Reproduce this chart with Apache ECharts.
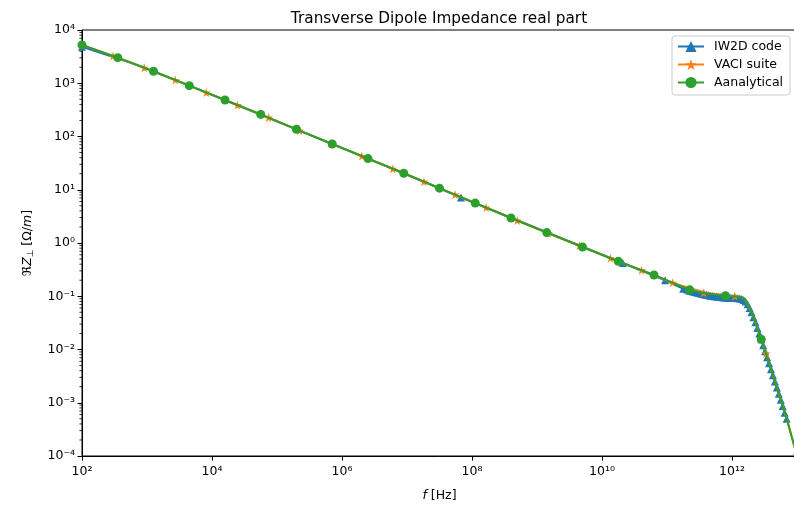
<!DOCTYPE html>
<html>
<head>
<meta charset="utf-8">
<script src="https://cdn.jsdelivr.net/npm/echarts@6/dist/echarts.min.js"></script>
<style>
  html, body { margin: 0; padding: 0; background: #fff; }
  #chart { width: 794px; height: 505px; }
</style>
</head>
<body>
<div id="chart"></div>
<script>
// Frequency axis ticks (Hz) and impedance axis ticks (Ohm/m)
const xTicks = [1e2, 1e4, 1e6, 1e8, 1e10, 1e12];
const yTicks = [1e-4, 1e-3, 1e-2, 1e-1, 1e0, 1e1, 1e2, 1e3, 1e4];

// IW2D code
const iw2dFreq = [
  1e2, 631.0, 4467, 199500, 8.913e6, 6.761e7, 2.089e10, 9.333e10, 1.778e11,
  2.042e11, 2.188e11, 2.344e11, 2.512e11, 2.692e11, 2.884e11, 3.090e11, 3.311e11,
  3.548e11, 3.802e11, 4.074e11, 4.365e11, 4.677e11, 5.012e11, 5.370e11, 5.754e11,
  6.166e11, 6.607e11, 7.079e11, 7.586e11, 8.128e11, 8.710e11, 9.333e11, 1.000e12,
  1.072e12, 1.148e12, 1.230e12, 1.318e12, 1.413e12, 1.514e12, 1.622e12, 1.738e12,
  1.862e12, 1.995e12, 2.138e12, 2.291e12, 2.455e12, 2.630e12, 2.818e12, 3.020e12,
  3.236e12, 3.467e12, 3.715e12, 3.981e12, 4.266e12, 4.571e12, 4.898e12, 5.248e12,
  5.623e12, 6.026e12, 6.457e12, 6.918e12
];
const iw2dVal = [
  4853, 2312, 901.6, 136.5, 20.42, 7.16, 0.421, 0.200, 0.138,
  0.1334, 0.1288, 0.1259, 0.1230, 0.1202, 0.1175, 0.1148, 0.1122,
  0.1102, 0.1081, 0.1062, 0.1042, 0.1026, 0.1012, 0.1000, 0.0989,
  0.0977, 0.0968, 0.0959, 0.0951, 0.0944, 0.0938, 0.0933, 0.0929,
  0.0927, 0.0925, 0.0920, 0.0912, 0.0891, 0.0851, 0.0794, 0.0708,
  0.0603, 0.0501, 0.0403, 0.0324, 0.0254, 0.0200, 0.0155, 0.0120,
  0.00923, 0.00716, 0.00550, 0.00427, 0.00327, 0.00251, 0.00193, 0.00148,
  0.00114, 0.000871, 0.000646, 0.000501
];
const iw2dUnmarked = [1, 2, 3, 4];

// VACI suite
const vaciFreq = [
  1e2, 300.6, 905.7, 2723, 8185, 24600, 74130, 222800, 669900,
  2.014e6, 6.067e6, 1.824e7, 5.483e7, 1.648e8, 4.966e8, 1.493e9, 4.487e9,
  1.349e10, 4.064e10, 1.222e11, 3.673e11, 1.104e12,
  1.318e12, 1.479e12, 1.622e12, 1.778e12, 1.995e12, 2.239e12, 2.512e12, 2.818e12,
  3.327e12, 3.631e12, 4.571e12, 5.754e12, 7.244e12, 9.120e12, 1e13
];
const vaciVal = [
  5248, 3243, 1954, 1151, 669.9, 389.9, 225.9, 129.1, 74.47,
  42.96, 24.75, 14.19, 8.091, 4.624, 2.642, 1.524, 0.889,
  0.5176, 0.3083, 0.1795, 0.1161, 0.100,
  0.0973, 0.0933, 0.0832, 0.0676, 0.0501, 0.0347, 0.0234, 0.0155,
  0.00851, 0.00603, 0.00251, 0.00105, 0.000417, 0.000151, 0.000105
];
const vaciUnmarked = [22, 23, 24, 25, 26, 27, 28, 29, 31, 32, 33, 34, 35];

// Analytical formula
const anaFreq = [
  1e2, 354.8, 1259, 4467, 15850, 56230, 199500, 707900,
  2.512e6, 8.913e6, 3.162e7, 1.122e8, 3.981e8, 1.413e9, 5.012e9,
  1.778e10, 6.310e10, 2.239e11, 3.162e11, 4.467e11, 5.888e11, 7.943e11,
  1.122e12, 1.318e12, 1.479e12, 1.622e12, 1.778e12, 1.995e12, 2.239e12, 2.512e12,
  2.818e12, 3.631e12, 4.571e12, 5.754e12, 7.244e12, 9.120e12, 1e13
];
const anaVal = [
  5248, 3020, 1679, 901.6, 484.2, 260.0, 136.5, 72.44,
  38.46, 20.42, 10.72, 5.623, 2.951, 1.567, 0.8414,
  0.4519, 0.2512, 0.1318, 0.1189, 0.1109, 0.1072, 0.1023,
  0.0989, 0.0973, 0.0933, 0.0832, 0.0676, 0.0501, 0.0347, 0.0234,
  0.0155, 0.00603, 0.00251, 0.00105, 0.000417, 0.000151, 0.000105
];
const anaUnmarked = [18, 19, 20, 22, 23, 24, 25, 26, 27, 28, 29, 31, 32, 33, 34, 35, 36];

const FONT = 'DejaVu Sans';
const STAR = 'path://M50,0 L61.2,34.5 L97.6,34.5 L68.2,55.9 L79.4,90.5 L50,69.1 L20.6,90.5 L31.8,55.9 L2.4,34.5 L38.8,34.5 Z';

const SUP = {'0':'⁰','1':'¹','2':'²','3':'³','4':'⁴','5':'⁵','6':'⁶','7':'⁷','8':'⁸','9':'⁹','-':'⁻'};
function powLabel(v) {
  const e = Math.round(Math.log10(v));
  return '10' + String(e).split('').map(c => SUP[c]).join('');
}

// line points; samples listed in `unmarked` are drawn without a symbol
function pairs(fs, vs, unmarked) {
  return fs.map((f, i) => {
    const item = { value: [f, vs[i]] };
    if (unmarked.indexOf(i) >= 0) item.symbol = 'none';
    return item;
  });
}

// minor ticks of the impedance axis: 2..9 times each decade
const yMinor = [];
for (let k = 0; k < yTicks.length - 1; k++) {
  for (let d = 2; d <= 9; d++) yMinor.push([xTicks[0], d * yTicks[k]]);
}

const chart = echarts.init(document.getElementById('chart'), null, { renderer: 'canvas' });

chart.setOption({
  animation: false,
  backgroundColor: '#fff',
  textStyle: { fontFamily: FONT },
  title: {
    text: 'Transverse Dipole Impedance real part',
    left: 434, top: 7, textAlign: 'center',
    textStyle: { fontFamily: FONT, fontSize: 15.3, fontWeight: 'normal', color: '#000' }
  },
  legend: {
    left: 672, top: 36,
    orient: 'vertical',
    data: ['IW2D code', 'VACI suite', 'Aanalytical'],
    itemWidth: 26, itemHeight: 14, itemGap: 5,
    padding: [4, 7, 6, 5],
    borderColor: '#cccccc', borderWidth: 1, borderRadius: 3,
    backgroundColor: 'rgba(255,255,255,0.8)',
    textStyle: { fontFamily: FONT, fontSize: 12.5, color: '#000', padding: [0, 0, 0, 5] }
  },
  grid: {
    left: 82, right: -3, top: 30, bottom: 49,
    outerBoundsMode: 'none', containLabel: false,
    show: true, borderColor: '#000', borderWidth: 1, backgroundColor: 'transparent'
  },
  xAxis: {
    type: 'log', logBase: 10,
    min: xTicks[0], max: 1e13, interval: 2,
    name: '{it|f} [Hz]',
    nameLocation: 'middle', nameGap: 33,
    nameTextStyle: {
      fontFamily: FONT, fontSize: 12.5, color: '#000',
      rich: {
        it: { fontFamily: FONT, fontStyle: 'italic', fontSize: 12.5, color: '#000' }
      }
    },
    axisLine: { lineStyle: { color: '#000', width: 1 } },
    axisTick: { show: true, length: 4.5, lineStyle: { color: '#000', width: 1 } },
    axisLabel: {
      color: '#000', fontFamily: FONT, fontSize: 12.5, margin: 9,
      showMaxLabel: false,
      formatter: v => powLabel(v)
    },
    splitLine: { show: false },
    minorTick: { show: false }
  },
  yAxis: {
    type: 'log', logBase: 10,
    min: yTicks[0], max: yTicks[yTicks.length - 1], interval: 1,
    name: '{a|ℜ}{z|Z}{s|⊥} {a|[Ω/}{z|m}{a|]}',
    nameLocation: 'middle', nameGap: 47, nameRotate: 90,
    nameTextStyle: {
      rich: {
        a: { fontFamily: FONT, fontSize: 12.5, color: '#000' },
        z: { fontFamily: FONT, fontSize: 12.5, fontStyle: 'italic', color: '#000' },
        s: { fontFamily: FONT, fontSize: 9, color: '#000', padding: [5, 0, 0, 0] }
      }
    },
    axisLine: { lineStyle: { color: '#000', width: 1 } },
    axisTick: { show: true, length: 4.5, lineStyle: { color: '#000', width: 1 } },
    axisLabel: {
      color: '#000', fontFamily: FONT, fontSize: 12.5, margin: 7,
      formatter: v => powLabel(v)
    },
    splitLine: { show: false }
  },
  series: [
    {
      name: 'IW2D code', type: 'line',
      data: pairs(iw2dFreq, iw2dVal, iw2dUnmarked),
      symbol: 'triangle', symbolSize: 8, showAllSymbol: true,
      lineStyle: { color: '#1f77b4', width: 2 },
      itemStyle: { color: '#1f77b4', borderWidth: 0 },
      z: 2
    },
    {
      name: 'VACI suite', type: 'line',
      data: pairs(vaciFreq, vaciVal, vaciUnmarked),
      symbol: STAR, symbolSize: 9, showAllSymbol: true,
      lineStyle: { color: '#ff7f0e', width: 2 },
      itemStyle: { color: '#ff7f0e', borderWidth: 0 },
      z: 3
    },
    {
      name: 'Aanalytical', type: 'line',
      data: pairs(anaFreq, anaVal, anaUnmarked),
      symbol: 'circle', symbolSize: 9, showAllSymbol: true,
      lineStyle: { color: '#2ca02c', width: 2 },
      itemStyle: { color: '#2ca02c', borderWidth: 0 },
      z: 4
    },
    {
      name: 'yMinorTicks', type: 'custom',
      data: yMinor, silent: true, clip: false,
      encode: { x: 0, y: 1 },
      renderItem: function (params, api) {
        const p = api.coord([api.value(0), api.value(1)]);
        return {
          type: 'line',
          shape: { x1: p[0] - 2.6, y1: p[1], x2: p[0], y2: p[1] },
          style: { stroke: '#000', lineWidth: 0.8 }
        };
      },
      z: 1
    }
  ]
});
</script>
</body>
</html>
